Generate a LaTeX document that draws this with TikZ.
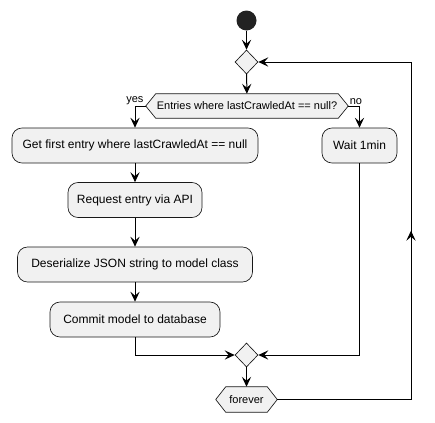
\documentclass[tikz,border=0pt]{standalone}
\usepackage{fontspec}
\setmainfont{Liberation Sans}
\usetikzlibrary{arrows.meta,shapes.geometric,backgrounds,decorations.markings}
\definecolor{boxfill}{HTML}{F1F1F1}
\definecolor{boxline}{HTML}{181818}
\definecolor{startfill}{HTML}{222222}
\begin{document}
\begin{tikzpicture}[x=0.75pt,y=-0.75pt,
  >={Stealth[length=7.5pt,width=7pt,inset=3pt]},
  act/.style={draw=boxline, fill=boxfill, line width=0.5pt, rounded corners=7.5pt, minimum height=26.25pt, inner sep=0pt, font=\fontsize{9}{11}\selectfont},
  merge/.style={diamond, draw=boxline, fill=boxfill, line width=0.5pt, minimum width=17.25pt, minimum height=18pt, inner sep=0pt},
  hexa/.style={inner sep=0pt, font=\fontsize{8.25}{10}\selectfont},
  hexshape/.style={draw=boxline, fill=boxfill, line width=0.5pt},
  lbl/.style={inner sep=0.5pt, font=\fontsize{8.25}{10}\selectfont},
  flow/.style={draw=black, line width=0.75pt, ->},
  plain/.style={draw=black, line width=0.75pt},
]
\useasboundingbox (0,0) rectangle (435,422);
\node[circle, fill=startfill, minimum size=15pt, inner sep=0pt] (start) at (246.5,20.5) {};
\node[merge] (m1) at (246.5,62) {};
\node[hexa, minimum width=151.5pt, minimum height=18pt] (dec) at (247,106) {Entries where lastCrawledAt == null?};
\node[act, minimum width=184.5pt] (b1) at (135,145.5) {Get first entry where lastCrawledAt == null};
\node[act, minimum width=56.25pt] (wait) at (359.5,145.5) {Wait 1min};
\node[act, minimum width=100.5pt] (b2) at (135,200) {Request entry via API};
\node[act, minimum width=176.25pt] (b3) at (135,264.5) {Deserialize JSON string to model class};
\node[act, minimum width=127.5pt] (b4) at (135,319.5) {Commit model to database};
\node[merge] (m2) at (246.5,355) {};
\node[hexa, minimum width=45.75pt, minimum height=18.75pt] (forever) at (246.5,399.5) {forever};
\begin{scope}[on background layer]
\path[hexshape] (dec.west) -- ([xshift=7.5pt]dec.north west) -- ([xshift=-7.5pt]dec.north east) -- (dec.east) -- ([xshift=-7.5pt]dec.south east) -- ([xshift=7.5pt]dec.south west) -- cycle;
\path[hexshape] (forever.west) -- ([xshift=7.5pt]forever.north west) -- ([xshift=-7.5pt]forever.north east) -- (forever.east) -- ([xshift=-7.5pt]forever.south east) -- ([xshift=7.5pt]forever.south west) -- cycle;
\end{scope}
\draw[flow] (start) -- (m1);
\draw[flow] (m1) -- (dec);
\draw[flow] (dec.west) -| (b1.north);
\node[lbl, anchor=south east] (yes) at ([xshift=-1pt,yshift=0.5pt]dec.west) {yes};
\draw[flow] (dec.east) -| (wait.north);
\node[lbl, anchor=south west] (no) at ([xshift=0.5pt,yshift=0.5pt]dec.east) {no};
\draw[flow] (b1) -- (b2);
\draw[flow] (b2) -- (b3);
\draw[flow] (b3) -- (b4);
\draw[flow] (b4.south) |- (m2.west);
\draw[flow] (wait.south) |- (m2.east);
\draw[flow] (m2) -- (forever);
\coordinate (lr) at (411,399.5);
\coordinate (ur) at (411,62);
\draw[plain] (forever.east) -- (lr);
\draw[plain, postaction=decorate, decoration={markings, mark=at position 0.5 with {\arrow{>}}}] (lr) -- (ur);
\draw[flow] (ur) -- (m1.east);
\end{tikzpicture}
\end{document}
